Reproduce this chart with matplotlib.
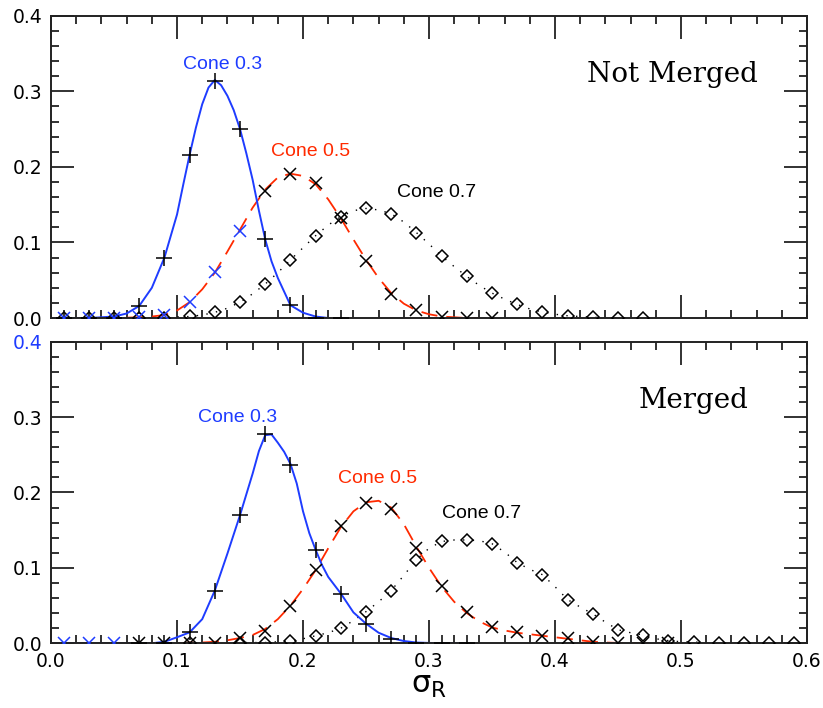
import numpy as np
import matplotlib
matplotlib.use("Agg")
import matplotlib.pyplot as plt
from matplotlib.ticker import MultipleLocator

plt.rcParams.update({'font.family': 'DejaVu Sans', 'mathtext.fontset': 'dejavusans'})

BLUE = '#1e3cff'
RED = '#ff2a00'

# ---- curves ----
cx_top_03 = [0.00, 0.01, 0.02, 0.03, 0.04, 0.05, 0.06, 0.07, 0.08, 0.09, 0.10, 0.105, 0.11,
             0.115, 0.12, 0.125, 0.13, 0.135, 0.14, 0.145, 0.15, 0.155, 0.16, 0.165, 0.17,
             0.175, 0.18, 0.19, 0.20, 0.21, 0.22]
cy_top_03 = [0.0, 0.0, 0.0, 0.0, 0.001, 0.002, 0.006, 0.016, 0.040, 0.080, 0.137, 0.177, 0.216,
             0.252, 0.283, 0.305, 0.315, 0.308, 0.294, 0.275, 0.250, 0.218, 0.183, 0.142, 0.104,
             0.075, 0.053, 0.017, 0.007, 0.002, 0.0]

cx_top_05 = [0.00, 0.05, 0.06, 0.07, 0.08, 0.09, 0.10, 0.11, 0.12, 0.13, 0.14, 0.15,
             0.16, 0.17, 0.18, 0.19, 0.20, 0.21, 0.22, 0.23, 0.24, 0.25, 0.26, 0.27,
             0.28, 0.29, 0.30, 0.31, 0.32, 0.33, 0.34]
cy_top_05 = [0.0, 0.0, 0.0005, 0.001, 0.002, 0.004, 0.010, 0.021, 0.038, 0.060, 0.088, 0.117,
             0.146, 0.170, 0.186, 0.191, 0.188, 0.177, 0.157, 0.132, 0.104, 0.077, 0.053, 0.033,
             0.019, 0.010, 0.005, 0.002, 0.001, 0.0, 0.0]

cx_top_07 = [0.00, 0.08, 0.09, 0.10, 0.11, 0.12, 0.13, 0.14, 0.15, 0.16, 0.17, 0.18,
             0.19, 0.20, 0.21, 0.22, 0.23, 0.24, 0.25, 0.26, 0.27, 0.28, 0.29, 0.30,
             0.31, 0.32, 0.33, 0.34, 0.35, 0.36, 0.37, 0.38, 0.39, 0.40, 0.41, 0.42,
             0.43, 0.44, 0.45, 0.47]
cy_top_07 = [0.0, 0.0, 0.001, 0.0015, 0.002, 0.004, 0.0075, 0.013, 0.021, 0.032, 0.045, 0.060,
             0.077, 0.093, 0.109, 0.123, 0.134, 0.142, 0.145, 0.143, 0.138, 0.127, 0.113, 0.098,
             0.082, 0.068, 0.055, 0.043, 0.033, 0.025, 0.018, 0.012, 0.008, 0.005, 0.003, 0.002,
             0.001, 0.0005, 0.0, 0.0]

cx_bot_03 = [0.00, 0.08, 0.09, 0.10, 0.11, 0.12, 0.13, 0.14, 0.15, 0.16, 0.165, 0.17,
             0.175, 0.18, 0.185, 0.19, 0.195, 0.20, 0.205, 0.21, 0.215, 0.22, 0.23, 0.24,
             0.25, 0.26, 0.27, 0.28, 0.29, 0.30, 0.31, 0.33]
cy_bot_03 = [0.0, 0.0, 0.002, 0.008, 0.0145, 0.032, 0.070, 0.119, 0.170, 0.225, 0.255, 0.276,
             0.277, 0.266, 0.254, 0.238, 0.212, 0.175, 0.146, 0.124, 0.104, 0.088, 0.066, 0.041,
             0.026, 0.014, 0.007, 0.003, 0.001, 0.0005, 0.0, 0.0]

cx_bot_05 = [0.00, 0.10, 0.11, 0.12, 0.13, 0.14, 0.15, 0.16, 0.17, 0.18, 0.19, 0.20,
             0.21, 0.22, 0.23, 0.24, 0.25, 0.26, 0.27, 0.28, 0.29, 0.30, 0.31, 0.32,
             0.33, 0.34, 0.35, 0.36, 0.37, 0.38, 0.39, 0.40, 0.41, 0.42, 0.43, 0.44,
             0.45, 0.49]
cy_bot_05 = [0.0, 0.0, 0.001, 0.001, 0.002, 0.004, 0.007, 0.011, 0.019, 0.032, 0.050, 0.072,
             0.097, 0.126, 0.154, 0.175, 0.187, 0.189, 0.180, 0.158, 0.128, 0.100, 0.075, 0.055,
             0.040, 0.029, 0.021, 0.017, 0.014, 0.012, 0.010, 0.008, 0.006, 0.004, 0.002, 0.001,
             0.0005, 0.0]

cx_bot_07 = [0.00, 0.13, 0.14, 0.15, 0.16, 0.17, 0.18, 0.19, 0.20, 0.21, 0.22, 0.23,
             0.24, 0.25, 0.26, 0.27, 0.28, 0.29, 0.30, 0.31, 0.32, 0.33, 0.34, 0.35,
             0.36, 0.37, 0.38, 0.39, 0.40, 0.41, 0.42, 0.43, 0.44, 0.45, 0.46, 0.47,
             0.48, 0.49, 0.50, 0.51, 0.52, 0.60]
cy_bot_07 = [0.0, 0.0, 0.0005, 0.001, 0.001, 0.001, 0.002, 0.0035, 0.006, 0.010, 0.014, 0.020,
             0.030, 0.042, 0.055, 0.070, 0.090, 0.111, 0.126, 0.135, 0.137, 0.137, 0.136, 0.132,
             0.121, 0.107, 0.098, 0.091, 0.075, 0.058, 0.048, 0.039, 0.028, 0.018, 0.014, 0.011,
             0.006, 0.0035, 0.002, 0.002, 0.0, 0.0]

# ---- data points ----
px_top_03 = [0.01, 0.03, 0.05, 0.07, 0.09, 0.11, 0.13, 0.15, 0.17, 0.19, 0.21, 0.23]
py_top_03 = [0.0, 0.0, 0.0, 0.016, 0.080, 0.216, 0.313, 0.250, 0.104, 0.017, 0.0, 0.0]

px_top_05 = [0.01, 0.03, 0.05, 0.07, 0.09, 0.11, 0.13, 0.15, 0.17, 0.19, 0.21, 0.23,
             0.25, 0.27, 0.29, 0.31, 0.33, 0.35]
py_top_05 = [0.0, 0.0, 0.0, 0.001, 0.004, 0.021, 0.061, 0.115, 0.168, 0.191, 0.179, 0.132,
             0.075, 0.032, 0.010, 0.002, 0.0, 0.0]

px_top_07 = [0.01, 0.03, 0.05, 0.07, 0.09, 0.11, 0.13, 0.15, 0.17, 0.19, 0.21, 0.23,
             0.25, 0.27, 0.29, 0.31, 0.33, 0.35, 0.37, 0.39, 0.41, 0.43, 0.45, 0.47]
py_top_07 = [0.0, 0.0, 0.0, 0.0, 0.0005, 0.003, 0.0075, 0.021, 0.045, 0.077, 0.109, 0.134,
             0.145, 0.138, 0.113, 0.082, 0.055, 0.033, 0.018, 0.008, 0.003, 0.001, 0.0, 0.0]

px_bot_03 = [0.07, 0.09, 0.11, 0.13, 0.15, 0.17, 0.19, 0.21, 0.23, 0.25, 0.27, 0.29,
             0.31, 0.33]
py_bot_03 = [0.0, 0.0, 0.0145, 0.070, 0.170, 0.278, 0.236, 0.124, 0.065, 0.026, 0.006, 0.001,
             0.0, 0.0]

px_bot_05 = [0.01, 0.03, 0.05, 0.07, 0.09, 0.11, 0.13, 0.15, 0.17, 0.19, 0.21, 0.23,
             0.25, 0.27, 0.29, 0.31, 0.33, 0.35, 0.37, 0.39, 0.41, 0.43, 0.45, 0.47, 0.49]
py_bot_05 = [0.0, 0.0, 0.0, 0.0, 0.0, 0.0, 0.001, 0.0066, 0.0167, 0.050, 0.097, 0.155,
             0.186, 0.178, 0.127, 0.076, 0.042, 0.021, 0.0145, 0.0097, 0.0066, 0.002, 0.0, 0.0, 0.0]

px_bot_07 = [0.11, 0.15, 0.17, 0.19, 0.21, 0.23, 0.25, 0.27, 0.29, 0.31, 0.33, 0.35,
             0.37, 0.39, 0.41, 0.43, 0.45, 0.47, 0.49, 0.51, 0.53, 0.55, 0.57, 0.59]
py_bot_07 = [0.0, 0.001, 0.001, 0.0035, 0.0097, 0.0198, 0.042, 0.0696, 0.111, 0.135, 0.1365, 0.132,
             0.107, 0.091, 0.058, 0.0387, 0.0176, 0.011, 0.0035, 0.002, 0.0, 0.001, 0.0, 0.0]

fig = plt.figure(figsize=(8.23, 7.08), dpi=100)
ax1 = fig.add_axes([0.062, 0.5508, 0.9186, 0.427])
ax2 = fig.add_axes([0.062, 0.0914, 0.9186, 0.426])


def draw_panel(ax, curves, points, blue_x_upto):
    (x3, y3), (x5, y5), (x7, y7) = curves
    (p3, q3), (p5, q5), (p7, q7) = points
    ax.plot(x7, y7, color='black', lw=1.0, linestyle=(0, (1, 6)), zorder=2)
    ax.plot(x5, y5, color=RED, lw=1.3, linestyle=(0, (9, 5)), zorder=2)
    ax.plot(x3, y3, color=BLUE, lw=1.4, zorder=2)
    ax.plot(p7, q7, linestyle='none', marker='D', ms=6, mfc='none', mec='black', mew=1.1, zorder=3)
    ax.plot(p3, q3, linestyle='none', marker='+', ms=11, mec='black', mew=1.1, zorder=3)
    cols = [BLUE if x <= blue_x_upto else 'black' for x in p5]
    for x, y, c in zip(p5, q5, cols):
        ax.plot(x, y, linestyle='none', marker='x', ms=9, mec=c, mew=1.1, zorder=4)

    ax.set_xlim(0, 0.6)
    ax.set_ylim(0, 0.4)
    ax.xaxis.set_major_locator(MultipleLocator(0.1))
    ax.xaxis.set_minor_locator(MultipleLocator(0.02))
    ax.yaxis.set_major_locator(MultipleLocator(0.1))
    ax.yaxis.set_minor_locator(MultipleLocator(0.02))
    ax.tick_params(which='both', direction='in', top=True, right=True, width=1.3,
                   color='#222222', labelsize=13.5)
    ax.tick_params(which='major', length=16.5, pad=6)
    ax.tick_params(which='minor', length=6)
    for s in ax.spines.values():
        s.set_linewidth(1.4)
        s.set_color('#222222')
    ax.yaxis.set_major_formatter(matplotlib.ticker.FormatStrFormatter('%.1f'))
    ax.xaxis.set_major_formatter(matplotlib.ticker.FormatStrFormatter('%.1f'))


draw_panel(ax1,
           [(cx_top_03, cy_top_03), (cx_top_05, cy_top_05), (cx_top_07, cy_top_07)],
           [(px_top_03, py_top_03), (px_top_05, py_top_05), (px_top_07, py_top_07)],
           0.15)
draw_panel(ax2,
           [(cx_bot_03, cy_bot_03), (cx_bot_05, cy_bot_05), (cx_bot_07, cy_bot_07)],
           [(px_bot_03, py_bot_03), (px_bot_05, py_bot_05), (px_bot_07, py_bot_07)],
           0.05)

ax1.tick_params(axis='x', labelbottom=False)

ax1.text(0.136, 0.336, 'Cone 0.3', color=BLUE, fontsize=14, family='Liberation Sans',
         ha='center', va='center')
ax1.text(0.2056, 0.220, 'Cone 0.5', color=RED, fontsize=14, family='Liberation Sans',
         ha='center', va='center')
ax1.text(0.306, 0.166, 'Cone 0.7', color='black', fontsize=14, family='Liberation Sans',
         ha='center', va='center')
ax1.text(0.4933, 0.3228, 'Not Merged', fontsize=20, family='DejaVu Serif',
         ha='center', va='center')

ax2.text(0.148, 0.2995, 'Cone 0.3', color=BLUE, fontsize=14, family='Liberation Sans',
         ha='center', va='center')
ax2.text(0.2595, 0.218, 'Cone 0.5', color=RED, fontsize=14, family='Liberation Sans',
         ha='center', va='center')
ax2.text(0.342, 0.172, 'Cone 0.7', color='black', fontsize=14, family='Liberation Sans',
         ha='center', va='center')
ax2.text(0.510, 0.3215, 'Merged', fontsize=20, family='DejaVu Serif',
         ha='center', va='center')

ax2.set_xlabel('σ$_{\\mathrm{R}}$', fontsize=22, labelpad=0)

# right-hand tick colours as in the original
for t, v in zip(ax1.yaxis.get_major_ticks(), ax1.yaxis.get_majorticklocs()):
    if v > 0.21:
        t.tick2line.set_color(BLUE)
for t, v in zip(ax1.yaxis.get_minor_ticks(), ax1.yaxis.get_minorticklocs()):
    if v > 0.21:
        t.tick2line.set_color(BLUE)
for t in ax2.yaxis.get_major_ticks() + ax2.yaxis.get_minor_ticks():
    t.tick2line.set_color(BLUE)
for lbl in ax2.get_yticklabels():
    if lbl.get_text() == '0.4':
        lbl.set_color(BLUE)

fig.savefig('out.png', dpi=100)
